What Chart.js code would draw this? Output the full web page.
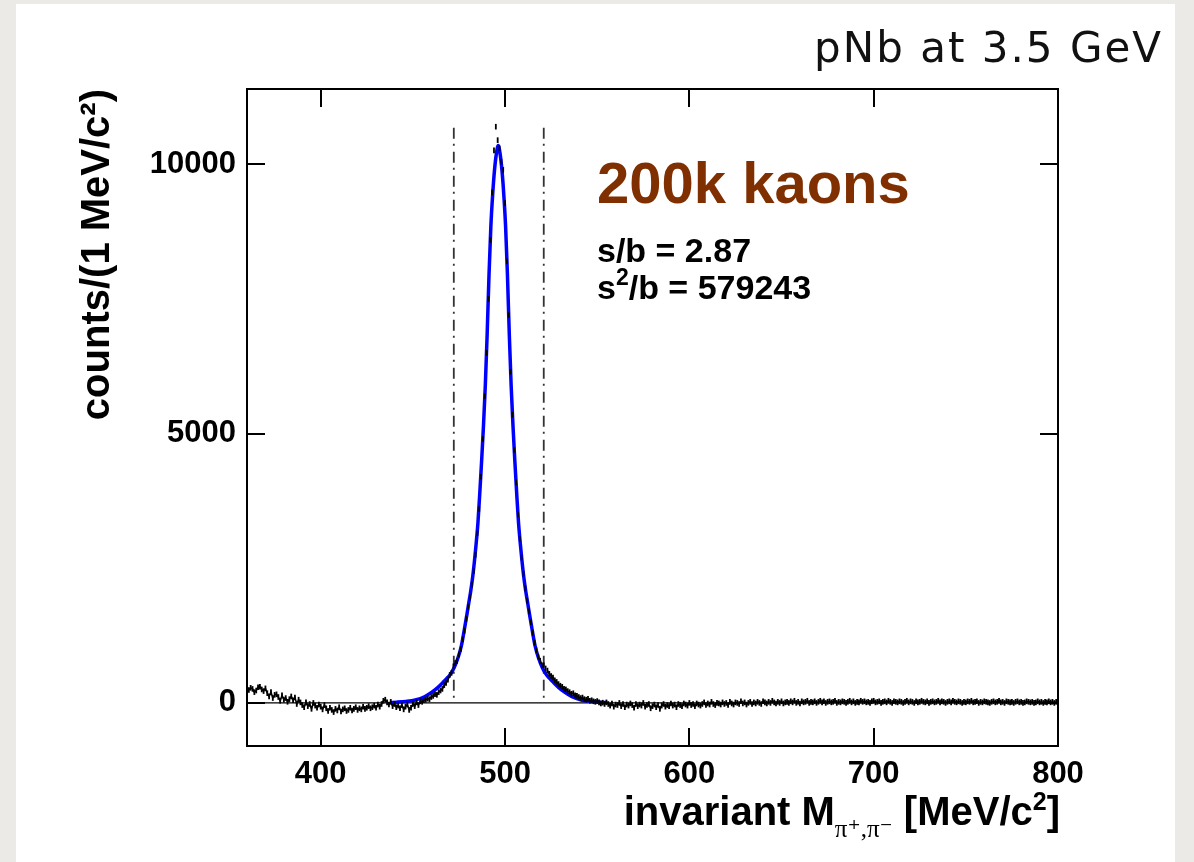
<!DOCTYPE html>
<html>
<head>
<meta charset="utf-8">
<script src="https://cdn.jsdelivr.net/npm/chart.js@4.4.1/dist/chart.umd.min.js"></script>
<style>
  html, body { margin: 0; padding: 0; }
  body { width: 1194px; height: 862px; background: #ebeae6; position: relative; overflow: hidden; }
  #panel { position: absolute; left: 16px; top: 4px; width: 1159px; height: 858px; background: #fff; }
  #plot { position: absolute; left: 0; top: 0; }
</style>
</head>
<body>
<div id="panel"></div>
<canvas id="plot" width="1194" height="862"></canvas>
<script>
// tick values
var xTicks = [400, 500, 600, 700, 800];
var yTicks = [0, 5000, 10000];

// histogram: 1 MeV bins, first bin at 361 MeV
var firstBin = 361;
var counts = [
	240, 280, 260, 200, 230, 290, 300, 250, 220, 270,
	180, 120, 200, 90, 150, 160, 110, 40, 140, 60,
	90, 20, 70, 120, 50, 100, -20, 60, 10, -40,
	-80, 10, -60, -20, -110, 0, -50, -90, -30, -70,
	-120, -40, -100, -150, -90, -130, -170, -110, -140, -80,
	-160, -120, -100, -150, -130, -90, -140, -110, -80, -130,
	-100, -120, -70, -110, -90, -60, -100, -80, -50, -90,
	-30, -70, -20, 40, 60, 10, -30, 20, -60, -20,
	-80, -50, -100, -40, -120, -70, -30, -130, -90, -20,
	-60, 10, -40, 30, 20, 50, 60, 80, 70, 110,
	130, 160, 150, 200, 230, 260, 330, 370, 430, 520,
	560, 680, 740, 780, 900, 1000, 1180, 1340, 1560, 1780,
	1960, 2200, 2450, 2750, 3150, 3600, 4200, 4900, 5700, 6500,
	7500, 8600, 9480, 10260, 10700, 10450, 10300, 10050, 9900, 9280,
	8200, 7200, 6150, 5350, 4700, 4100, 3500, 3050, 2700, 2400,
	2130, 1900, 1700, 1500, 1300, 1120, 980, 860, 780, 700,
	700, 640, 600, 540, 500, 470, 420, 390, 350, 320,
	300, 260, 250, 220, 200, 170, 180, 140, 130, 110,
	90, 100, 70, 60, 75, 40, 50, 30, 20, 35,
	10, -10, 5, -20, 10, -20, -50, -10, -70, -30,
	-40, 0, -60, -20, -80, -30, -50, -10, -40, -90,
	-20, -60, -30, -50, 0, -70, -40, -20, -100, -60,
	-30, -80, -40, -110, -50, -20, -70, -40, -60, -10,
	-50, -30, -80, -20, -40, -60, -10, -30, -50, 0,
	-40, -20, -60, -10, -30, -50, -20, 10, -40, -10,
	-30, 20, -20, -40, 0, -10, -30, 10, -20, 0,
	-40, 20, -10, -30, 10, 0, -20, 30, -10, 10,
	-30, 0, 20, -20, 10, -10, 20, 0, -20, 30,
	10, -10, 20, 0, 40, 10, -10, 20, 0, 30,
	-10, 10, 20, 0, 30, 10, 40, 0, 20, -10,
	30, 10, 20, 40, 0, 20, 10, 30, 0, 20,
	40, 10, 30, 0, 20, 30, 10, 20, 40, 0,
	20, 10, 30, 20, 0, 20, 40, 10, 30, 0,
	20, 10, 40, 20, 30, 10, 20, 0, 30, 40,
	10, 20, 30, 0, 20, 30, 10, 40, 20, 0,
	30, 20, 10, 30, 20, 0, 20, 40, 10, 30,
	20, 0, 30, 10, 20, 40, 20, 10, 30, 0,
	20, 30, 10, 20, 40, 10, 30, 20, 0, 20,
	30, 10, 40, 20, 10, 30, 20, 0, 20, 10,
	30, 20, 40, 10, 20, 30, 0, 20, 10, 30,
	20, 10, 0, 20, 30, 10, 20, 40, 10, 20,
	0, 30, 20, 10, 20, 0, 20, 30, 10, 20,
	0, 10, 30, 20, 10, 20, 0, 10, 30, 10,
	20, 0, 20, 10, 30, 10, 20, 0, 20
];

// fit curve
var fitMass = [437.7, 441.3, 446.3, 451.3, 456.3, 460.3, 463.3, 466.3, 468.3, 470.3, 472.3, 474.3, 476.3,
	477.3, 478.3, 479.3, 480.3, 481.3, 482.3, 483.3, 484.3, 485.3, 486.3, 487.3, 488.3, 489.3, 490.3,
	491.3, 492.3, 493.3, 494.3, 495.3, 496.3, 497.3, 498.3, 499.3, 500.3, 501.3, 502.3, 503.3, 504.3,
	505.3, 506.3, 507.3, 508.3, 509.3, 510.3, 511.3, 512.3, 513.3, 514.3, 515.3, 516.3,
	518.3, 520.3, 522.3, 524.3, 526.3, 529.3, 532.3, 536.3, 541.3, 546.3, 551.3, 555.5];
var fitCounts = [8, 14, 28, 55, 115, 200, 280, 380, 450, 530, 650, 820, 1060,
	1240, 1440, 1640, 1850, 2060, 2300, 2600, 2950, 3350, 3900, 4500, 5150, 5900, 6850,
	7950, 8850, 9450, 9900, 10200, 10350, 10200, 9900, 9450, 8850, 7950, 6850, 5900, 5150,
	4500, 3900, 3350, 2950, 2600, 2300, 2060, 1850, 1640, 1440, 1240, 1060,
	820, 650, 530, 450, 380, 280, 200, 115, 55, 28, 14, 6];

// mass window
var windowLow = 472.2;
var windowHigh = 521.0;
var windowTop = 10680;

var histPoints = counts.map(function(c, i) { return {x: firstBin + i, y: c}; });
var fitPoints = fitMass.map(function(m, i) { return {x: m, y: fitCounts[i]}; });

var SANS = '"Liberation Sans", Arial, Helvetica, sans-serif';

function drawPieces(ctx, pieces, xRight, baseline) {
	var total = 0;
	pieces.forEach(function(p) { ctx.font = p.font; p.w = ctx.measureText(p.t).width; total += p.w; });
	var x = xRight - total;
	pieces.forEach(function(p) {
		ctx.font = p.font;
		ctx.fillText(p.t, x, baseline + (p.dy || 0));
		x += p.w;
	});
}

var decorations = {
	id: 'decorations',
	afterDatasetsDraw: function(chart) {
		var ctx = chart.ctx, a = chart.chartArea, xs = chart.scales.x, ys = chart.scales.y;
		ctx.save();
		ctx.strokeStyle = '#000';
		ctx.lineWidth = 2;
		ctx.strokeRect(a.left, a.top, a.right - a.left, a.bottom - a.top);
		ctx.beginPath();
		xTicks.forEach(function(v) {
			var px = Math.round(xs.getPixelForValue(v));
			ctx.moveTo(px, a.bottom); ctx.lineTo(px, a.bottom - 18);
			ctx.moveTo(px, a.top); ctx.lineTo(px, a.top + 18);
		});
		yTicks.forEach(function(v) {
			var py = Math.round(ys.getPixelForValue(v));
			ctx.moveTo(a.left, py); ctx.lineTo(a.left + 18, py);
			ctx.moveTo(a.right, py); ctx.lineTo(a.right - 18, py);
		});
		ctx.stroke();

		ctx.textBaseline = 'alphabetic';
		ctx.textAlign = 'left';
		ctx.fillStyle = '#803000';
		ctx.font = 'bold 58px ' + SANS;
		ctx.fillText('200k kaons', 597, 203);

		ctx.fillStyle = '#000';
		ctx.font = 'bold 34px ' + SANS;
		ctx.fillText('s/b = 2.87', 597, 262);
		ctx.fillText('s', 597, 299);
		var sw = ctx.measureText('s').width;
		ctx.font = 'bold 23px ' + SANS;
		ctx.fillText('2', 597 + sw, 285);
		var tw = ctx.measureText('2').width;
		ctx.font = 'bold 34px ' + SANS;
		ctx.fillText('/b = 579243', 597 + sw + tw, 299);

		// x axis title
		drawPieces(ctx, [
			{t: 'invariant M', font: 'bold 40px ' + SANS},
			{t: '\u03c0\u207a,\u03c0\u207b', font: '25px "Liberation Serif", "DejaVu Serif", serif', dy: 12},
			{t: ' [MeV/c', font: 'bold 40px ' + SANS},
			{t: '2', font: 'bold 25px ' + SANS, dy: -15},
			{t: ']', font: 'bold 40px ' + SANS}
		], 1060, 825);

		ctx.font = '42px "DejaVu Sans", Verdana, sans-serif';
		ctx.letterSpacing = '2px';
		ctx.textAlign = 'right';
		ctx.fillStyle = '#111';
		ctx.fillText('pNb at 3.5 GeV', 1163, 62);
		ctx.restore();
	}
};

var ctx = document.getElementById('plot').getContext('2d');

var chart = new Chart(ctx, {
	type: 'scatter',
	data: {
		datasets: [
			{
				label: 'data',
				data: histPoints,
				showLine: true,
				borderColor: '#000',
				borderWidth: 1.6,
				segment: {
					borderColor: function(c) { return (c.p0.parsed.y > 600 || c.p1.parsed.y > 600) ? 'rgba(0,0,0,0)' : undefined; }
				},
				pointStyle: 'line',
				pointRotation: 90,
				pointRadius: 2.8,
				pointBorderWidth: 1.8,
				pointBorderColor: '#000',
				pointBackgroundColor: '#000',
				order: 0
			},
			{
				label: 'fit',
				data: fitPoints,
				showLine: true,
				borderColor: '#0000ff',
				borderWidth: 3.5,
				pointRadius: 0,
				cubicInterpolationMode: 'monotone',
				order: 1
			},
			{
				label: 'low',
				data: [{x: windowLow, y: windowTop}, {x: windowLow, y: 0}],
				showLine: true,
				borderColor: '#333',
				borderWidth: 1.8,
				borderDash: [11, 5, 2, 6],
				pointRadius: 0,
				order: 2
			},
			{
				label: 'high',
				data: [{x: windowHigh, y: windowTop}, {x: windowHigh, y: 0}],
				showLine: true,
				borderColor: '#333',
				borderWidth: 1.8,
				borderDash: [11, 5, 2, 6],
				pointRadius: 0,
				order: 2
			},
			{
				label: 'zero',
				data: [{x: 360, y: 0}, {x: 800, y: 0}],
				showLine: true,
				borderColor: '#000',
				borderWidth: 1.2,
				pointRadius: 0,
				order: 3
			}
		]
	},
	options: {
		responsive: false,
		animation: false,
		devicePixelRatio: 1,
		layout: { padding: { left: 0, top: 89, right: 136, bottom: 0 } },
		plugins: { legend: { display: false }, tooltip: { enabled: false } },
		scales: {
			x: {
				type: 'linear',
				min: 360,
				max: 800,
				afterBuildTicks: function(s) { s.ticks = xTicks.map(function(v) { return {value: v}; }); },
				afterFit: function(s) { s.height = 116; },
				grid: { display: false, drawTicks: false },
				border: { display: false },
				ticks: { color: '#000', padding: 10, maxRotation: 0, callback: function(v) { return String(v); }, font: { family: SANS, size: 31, weight: 'bold' } }
			},
			y: {
				type: 'linear',
				min: -800,
				max: 11400,
				afterBuildTicks: function(s) { s.ticks = yTicks.map(function(v) { return {value: v}; }); },
				afterFit: function(s) { s.width = 247; },
				grid: { display: false, drawTicks: false },
				border: { display: false },
				ticks: { color: '#000', padding: 11, callback: function(v) { return String(v); }, font: { family: SANS, size: 31, weight: 'bold' } },
				title: {
					display: true,
					text: 'counts/(1 MeV/c\u00b2)',
					align: 'end',
					color: '#000',
					padding: { top: 74, bottom: 0 },
					font: { family: SANS, size: 40, weight: 'bold' }
				}
			}
		}
	},
	plugins: [decorations]
});
</script>
</body>
</html>
